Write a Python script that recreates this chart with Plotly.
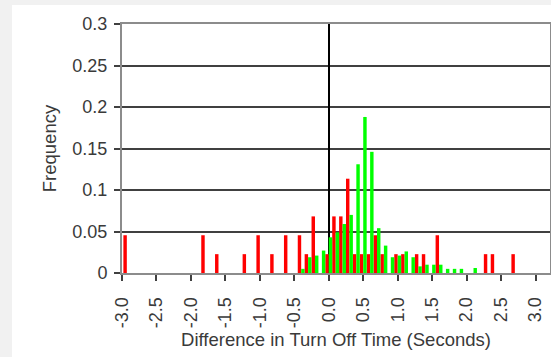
import plotly.graph_objects as go

# Bar centre positions (seconds) and frequencies
red_x = [-2.955, -1.825, -1.625, -1.225, -1.025, -0.825, -0.625, -0.425, -0.325,
         -0.225, -0.025, 0.075, 0.175, 0.275, 0.375, 0.475, 0.575, 0.675, 0.775,
         0.975, 1.075, 1.275, 1.375, 1.575, 2.275, 2.375, 2.675]
red_y = [0.0455, 0.0455, 0.0227, 0.0227, 0.0455, 0.0227, 0.0455, 0.0455, 0.0227,
         0.0682, 0.0227, 0.0682, 0.0682, 0.1136, 0.0227, 0.0227, 0.0227, 0.0455, 0.0227,
         0.0227, 0.0227, 0.0227, 0.0227, 0.0455, 0.0227, 0.0227, 0.0227]

green_x = [-0.375, -0.275, -0.175, -0.075, 0.025, 0.125, 0.225, 0.325, 0.425, 0.525,
           0.625, 0.725, 0.825, 0.925, 1.025, 1.125, 1.225, 1.325, 1.425, 1.525,
           1.625, 1.725, 1.825, 1.925, 2.125]
green_y = [0.005, 0.019, 0.021, 0.027, 0.043, 0.049, 0.059, 0.070, 0.131, 0.188,
           0.146, 0.054, 0.033, 0.019, 0.021, 0.026, 0.019, 0.008, 0.010, 0.010,
           0.010, 0.005, 0.005, 0.005, 0.006]

x_tickvals = [-3.0, -2.5, -2.0, -1.5, -1.0, -0.5, 0.0, 0.5, 1.0, 1.5, 2.0, 2.5, 3.0]
x_ticktext = ["-3.0", "-2.5", "-2.0", "-1.5", "-1.0", "-0.5", "0.0", "0.5", "1.0",
              "1.5", "2.0", "2.5", "3.0"]
y_tickvals = [0, 0.05, 0.1, 0.15, 0.2, 0.25, 0.3]
y_ticktext = ["0", "0.05", "0.1", "0.15", "0.2", "0.25", "0.3"]

W, H = 551, 357
ML, MR, MT, MB = 122, 1, 24, 84
PW, PH = W - ML - MR, H - MT - MB

def px_x(p):
    return (p - ML) / PW

def px_y(p):
    return (H - MB - p) / PH

fig = go.Figure()
fig.add_trace(go.Bar(x=red_x, y=red_y, width=0.05, marker=dict(color="#ff0000", line=dict(width=0)),
                     showlegend=False))
fig.add_trace(go.Bar(x=green_x, y=green_y, width=0.05, marker=dict(color="#00ff00", line=dict(width=0)),
                     showlegend=False))

font = dict(family="Liberation Sans, Arial, sans-serif", size=18, color="#3a3a3a")
title_font = dict(family="Liberation Sans, Arial, sans-serif", size=18.5, color="#3a3a3a")

fig.update_layout(
    width=W, height=H,
    margin=dict(l=ML, r=MR, t=MT, b=MB, autoexpand=False),
    paper_bgcolor="white", plot_bgcolor="white",
    barmode="overlay",
    font=font,
    shapes=[
        dict(type="rect", xref="paper", yref="paper", x0=px_x(0), x1=px_x(12),
             y0=px_y(H), y1=px_y(0), fillcolor="#f1f1f1", line=dict(width=0), layer="below"),
        dict(type="rect", xref="paper", yref="paper", x0=px_x(0), x1=px_x(W),
             y0=px_y(5), y1=px_y(0), fillcolor="#f1f1f1", line=dict(width=0), layer="below"),
    ],
    xaxis=dict(
        range=[-3.0, 3.21], automargin=False,
        tickvals=x_tickvals, ticktext=x_ticktext, tickangle=-90,
        ticks="outside", ticklen=6, tickwidth=1.5, tickcolor="#404040",
        ticklabelstandoff=9,
        showgrid=False,
        zeroline=True, zerolinecolor="#000000", zerolinewidth=1.5,
        showline=True, linecolor="#8c8c8c", linewidth=2, mirror=True,
        title=dict(text="Difference in Turn Off Time (Seconds)", font=title_font, standoff=6),
        tickfont=font,
    ),
    yaxis=dict(
        range=[0, 0.3], automargin=False,
        tickvals=y_tickvals, ticktext=y_ticktext,
        ticks="outside", ticklen=6, tickwidth=1.5, tickcolor="#404040",
        ticklabelstandoff=3,
        showgrid=True, gridcolor="#404040", gridwidth=1.6,
        zeroline=False,
        showline=True, linecolor="#8c8c8c", linewidth=2, mirror=True,
        title=dict(text="Frequency", font=title_font, standoff=11),
        tickfont=font,
    ),
)

fig.write_html("out.html", config={"displayModeBar": False},
               post_script="document.body.style.margin='0';document.body.style.overflow='hidden';")
